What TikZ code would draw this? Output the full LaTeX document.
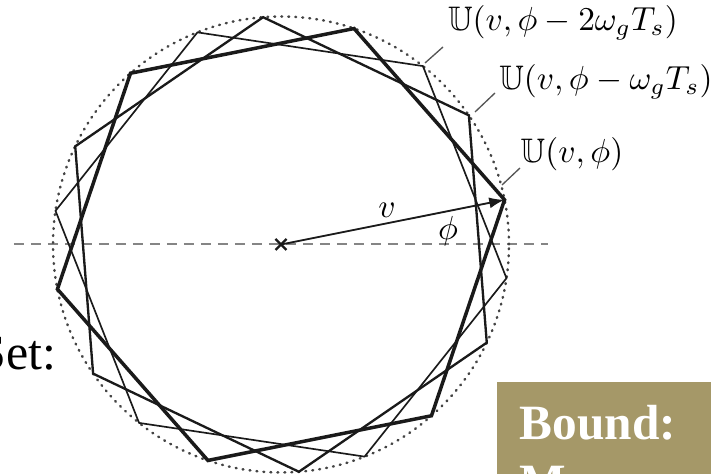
\documentclass[tikz,border=0pt]{standalone}
\usepackage{amssymb}
\usepackage{fontspec}
\newfontfamily\slidefont{Liberation Serif}
\usetikzlibrary{calc,arrows.meta}
\definecolor{boxolive}{HTML}{A59868}
\definecolor{inkblack}{HTML}{1A1A1A}
\definecolor{dashgray}{HTML}{858585}
\definecolor{dotgray}{HTML}{444444}
\definecolor{leadgray}{HTML}{555555}
\tikzset{
  axisline/.style={draw=dashgray, line width=0.6pt, dash pattern=on 3pt off 2.1pt},
  boundary/.style={draw=dotgray, line width=0.75pt, line cap=round, dash pattern=on 0.25pt off 1.85pt},
  polythin/.style={draw=inkblack, line width=0.5pt, line join=miter},
  polymid/.style={draw=inkblack, line width=0.7pt, line join=miter},
  polythick/.style={draw=inkblack, line width=1.05pt, line join=miter},
  vec/.style={draw=inkblack, line width=0.55pt, -{Latex[length=4.6pt,width=3.3pt]}},
  leader/.style={draw=leadgray, line width=0.4pt},
  lbl/.style={inner sep=0pt, font=\fontsize{10.2}{12}\selectfont},
  slidetext/.style={inner sep=0pt}
}
\begin{document}
\begin{tikzpicture}[x=0.3pt,y=0.3pt]
\useasboundingbox (0,0) rectangle (711,474);
\clip (0,0) rectangle (711,474);
\coordinate (C) at (281,229.5);
\coordinate (dl) at (14,229.5);
\coordinate (dr) at (548,229.5);
\draw[axisline] (dl) -- (dr);
\draw[boundary] (C) circle[radius=228];
\foreach \k in {0,...,5}{
  \coordinate (A\k) at ($(C)+({51.5+60*\k}:228)$);
  \coordinate (B\k) at ($(C)+({34.5+60*\k}:228)$);
  \coordinate (T\k) at ($(C)+({11.3+60*\k}:228)$);
}
\draw[polythin] (A0) -- (A1) -- (A2) -- (A3) -- (A4) -- (A5) -- cycle;
\draw[polymid] (B0) -- (B1) -- (B2) -- (B3) -- (B4) -- (B5) -- cycle;
\draw[polythick] (T0) -- (T1) -- (T2) -- (T3) -- (T4) -- (T5) -- cycle;
\draw[vec] (C) -- (T0);
\draw[line width=0.65pt, draw=inkblack] ($(C)+(-5.5,-5.5)$) -- ($(C)+(5.5,5.5)$);
\draw[line width=0.65pt, draw=inkblack] ($(C)+(-5.5,5.5)$) -- ($(C)+(5.5,-5.5)$);
\node[lbl] (vl) at (387,264) {$v$};
\node[lbl] (pl) at (448,243) {$\phi$};
\node[lbl] (L2) at (563,451) {$\mathbb{U}(v,\phi-2\omega_g T_s)$};
\node[lbl] (L1) at (606,392) {$\mathbb{U}(v,\phi-\omega_g T_s)$};
\node[lbl] (L0) at (572,320) {$\mathbb{U}(v,\phi)$};
\coordinate (l2a) at (425,411); \coordinate (l2b) at (443,427);
\coordinate (l1a) at (475,362); \coordinate (l1b) at (495,381);
\coordinate (l0a) at (502,289); \coordinate (l0b) at (520,306);
\draw[leader] (l2a) -- (l2b);
\draw[leader] (l1a) -- (l1b);
\draw[leader] (l0a) -- (l0b);
\node[slidetext, anchor=base east] (set) at (57,104) {\slidefont\fontsize{15}{18}\selectfont Set:};
\fill[boxolive] (497,-10) rectangle (720,92);
\node[slidetext, anchor=base west, text=white] (bd) at (519,34) {\slidefont\bfseries\fontsize{14.8}{17}\selectfont Bound:};
\node[slidetext, anchor=base west, text=white] (bm) at (519,-25) {\slidefont\bfseries\fontsize{14.8}{17}\selectfont M};
\end{tikzpicture}
\end{document}
